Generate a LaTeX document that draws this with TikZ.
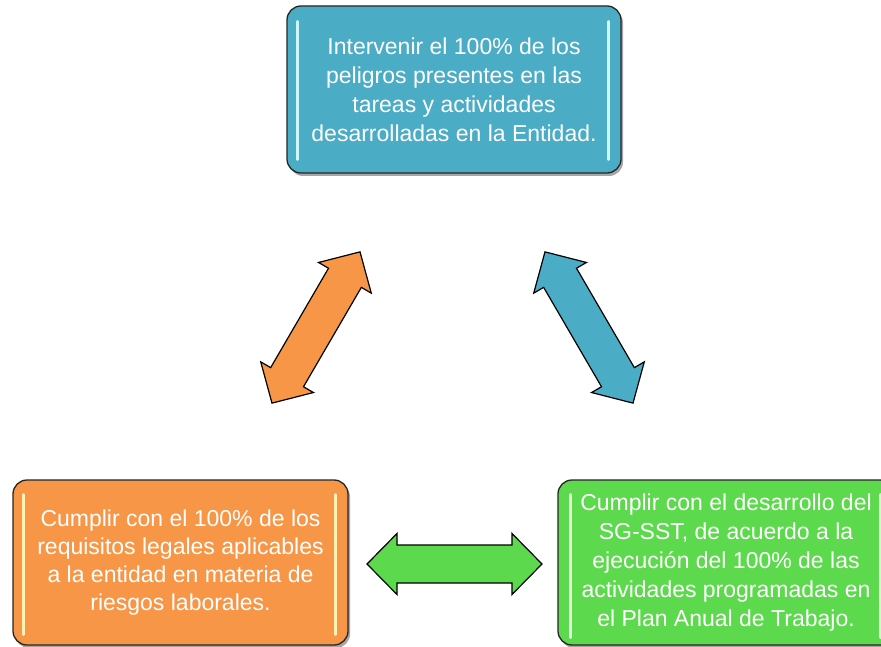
\documentclass[tikz,border=0pt]{standalone}
\usepackage{fontspec}
\setmainfont{Liberation Sans}
\usetikzlibrary{shadows,calc}
\definecolor{cblue}{HTML}{4BACC6}
\definecolor{corange}{HTML}{F79646}
\definecolor{cgreen}{HTML}{5CD94C}
\definecolor{glossblue}{HTML}{CFF5FF}
\definecolor{glossorange}{HTML}{FFF2B5}
\definecolor{glossgreen}{HTML}{E2FFDA}
\tikzset{
  goalbox/.style={draw=black!85, line width=1.3pt, rounded corners=14pt, text=white,
    align=center, font=\fontsize{23}{29}\selectfont, inner sep=0pt,
    drop shadow={shadow xshift=2pt, shadow yshift=-3pt, opacity=0.35, fill=black}},
  gloss/.style={line width=2.6pt, line cap=round},
  blockarr/.style={draw=black, line width=1.2pt, line join=miter}
}
\newcommand\dblarrow[4]{%
  \draw[blockarr, fill=#4, shift={(#1,#2)}, rotate=#3]
    (-87.5,0) -- (-57.5,30.5) -- (-57.5,19) -- (57.5,19) -- (57.5,30.5) -- (87.5,0)
    -- (57.5,-30.5) -- (57.5,-19) -- (-57.5,-19) -- (-57.5,-30.5) -- cycle;}
\begin{document}
\begin{tikzpicture}[x=1pt,y=-1pt]
\useasboundingbox (0,0) rectangle (881,647);
\clip (0,0) rectangle (881,647);
\fill[white] (0,0) rectangle (881,647);

\node[goalbox, fill=cblue, minimum width=334pt, minimum height=167pt] (top) at (454,89.5)
  {Intervenir el 100\% de los\\peligros presentes en las\\tareas y actividades\\desarrolladas en la Entidad.};
\node[goalbox, fill=corange, minimum width=335pt, minimum height=165pt, font=\fontsize{23}{28.3}\selectfont] (left) at (180.5,562.5)
  {Cumplir con el 100\% de los\\requisitos legales aplicables\\a la entidad en materia de\\riesgos laborales.};
\node[goalbox, fill=cgreen, minimum width=336pt, minimum height=165pt] (right) at (726,562.5)
  {Cumplir con el desarrollo del\\SG-SST, de acuerdo a la\\ejecución del 100\% de las\\actividades programadas en\\el Plan Anual de Trabajo.};

% gloss strips
\draw[gloss, glossblue] ([xshift=11pt,yshift=-16pt]top.north west) -- ([xshift=11pt,yshift=14pt]top.south west);
\draw[gloss, glossblue] ([xshift=-13pt,yshift=-16pt]top.north east) -- ([xshift=-13pt,yshift=14pt]top.south east);
\draw[gloss, glossorange] ([xshift=11pt,yshift=-15pt]left.north west) -- ([xshift=11pt,yshift=11pt]left.south west);
\draw[gloss, glossorange] ([xshift=-13pt,yshift=-15pt]left.north east) -- ([xshift=-13pt,yshift=11pt]left.south east);
\draw[gloss, glossgreen] ([xshift=13pt,yshift=-15pt]right.north west) -- ([xshift=13pt,yshift=8pt]right.south west);
\draw[gloss, glossgreen] ([xshift=-14pt,yshift=-15pt]right.north east) -- ([xshift=-14pt,yshift=8pt]right.south east);

% block arrows
\dblarrow{316}{327.5}{59.8}{corange}
\dblarrow{589}{327.5}{-59.8}{cblue}
\dblarrow{454.5}{564}{0}{cgreen}
\end{tikzpicture}
\end{document}
